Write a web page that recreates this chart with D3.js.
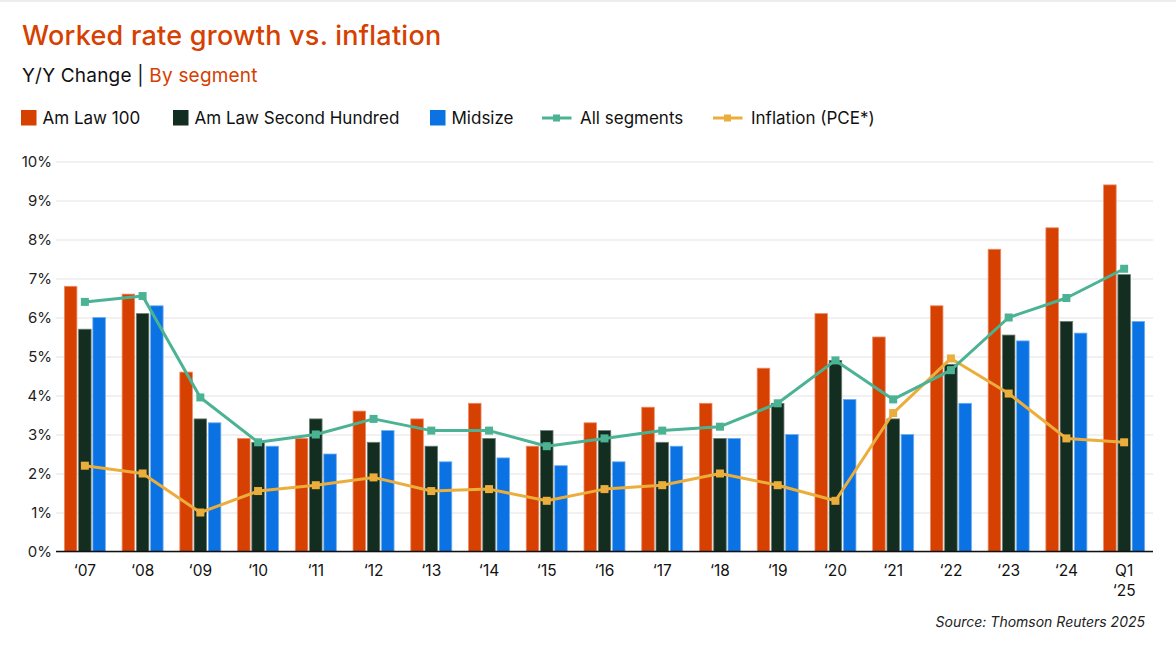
<!DOCTYPE html>
<html>
<head>
<meta charset="utf-8">
<script src="https://cdn.jsdelivr.net/npm/d3@7"></script>
<style>
  html, body { margin: 0; padding: 0; background: #fff; }
  svg { display: block; font-family: Inter, "Noto Sans", sans-serif; }
</style>
</head>
<body>
<svg id="chart" width="1176" height="645"></svg>
<script>
// ---- data ----
const categories = ["‘07","‘08","‘09","‘10","‘11","‘12","‘13","‘14","‘15","‘16","‘17","‘18","‘19","‘20","‘21","‘22","‘23","‘24","Q1\n‘25"];
const amLaw100      = [6.8, 6.6, 4.6, 2.9, 2.9, 3.6, 3.4, 3.8, 2.7, 3.3, 3.7, 3.8, 4.7, 6.1, 5.5, 6.3, 7.75, 8.3, 9.4];
const amLawSecond   = [5.7, 6.1, 3.4, 2.8, 3.4, 2.8, 2.7, 2.9, 3.1, 3.1, 2.8, 2.9, 3.8, 4.9, 3.4, 4.8, 5.55, 5.9, 7.1];
const midsize       = [6.0, 6.3, 3.3, 2.7, 2.5, 3.1, 2.3, 2.4, 2.2, 2.3, 2.7, 2.9, 3.0, 3.9, 3.0, 3.8, 5.4, 5.6, 5.9];
const allSegments   = [6.4, 6.55, 3.95, 2.8, 3.0, 3.4, 3.1, 3.1, 2.7, 2.9, 3.1, 3.2, 3.8, 4.9, 3.9, 4.65, 6.0, 6.5, 7.25];
const inflation     = [2.2, 2.0, 1.0, 1.55, 1.7, 1.9, 1.55, 1.6, 1.3, 1.6, 1.7, 2.0, 1.7, 1.3, 3.55, 4.95, 4.05, 2.9, 2.8];
const yTicks        = [0,1,2,3,4,5,6,7,8,9,10];
const barSeries  = ["Am Law 100", "Am Law Second Hundred", "Midsize"];
const lineSeries = ["All segments", "Inflation (PCE*)"];

// ---- styles ----
const colors = {
  "Am Law 100": "#D64000",
  "Am Law Second Hundred": "#132E21",
  "Midsize": "#0A72E3",
  "All segments": "#4BB394",
  "Inflation (PCE*)": "#EBAE3C"
};
const barStroke = {
  "Am Law 100": "#EE8A66",
  "Am Law Second Hundred": "#6C7F74",
  "Midsize": "#6FAEF0"
};

const svg = d3.select("#chart");
const W = 1176, H = 645;
const plot = { left: 56, right: 1153, top: 161.5, bottom: 551.5 };

// top border
svg.append("rect").attr("x", 0).attr("y", 0).attr("width", W).attr("height", 2).attr("fill", "#ececec");

// title & subtitle
svg.append("text").attr("x", 22).attr("y", 45)
  .attr("font-size", 27).attr("font-weight", 500).attr("fill", "#D64000")
  .attr("letter-spacing", 0.25)
  .text("Worked rate growth vs. inflation");
const sub = svg.append("text").attr("x", 22).attr("y", 82)
  .attr("font-size", 19).attr("fill", "#111").attr("letter-spacing", 0.2);
sub.append("tspan").text("Y/Y Change | ");
sub.append("tspan").attr("fill", "#D64000").text("By segment");

// legend
const legendItems = [
  { name: "Am Law 100", type: "bar", x: 21 },
  { name: "Am Law Second Hundred", type: "bar", x: 173 },
  { name: "Midsize", type: "bar", x: 430 },
  { name: "All segments", type: "line", x: 542 },
  { name: "Inflation (PCE*)", type: "line", x: 713 }
];
const lg = svg.append("g");
legendItems.forEach(it => {
  const g = lg.append("g");
  if (it.type === "bar") {
    g.append("rect").attr("x", it.x).attr("y", 110).attr("width", 15.5).attr("height", 15.5)
      .attr("fill", colors[it.name]);
    g.append("text").attr("x", it.x + 21.5).attr("y", 124).attr("font-size", 17).attr("fill", "#111").text(it.name);
  } else {
    g.append("line").attr("x1", it.x).attr("x2", it.x + 29.5).attr("y1", 118).attr("y2", 118)
      .attr("stroke", colors[it.name]).attr("stroke-width", 3);
    g.append("rect").attr("x", it.x + 11).attr("y", 114.5).attr("width", 7).attr("height", 7)
      .attr("fill", colors[it.name]);
    g.append("text").attr("x", it.x + 38).attr("y", 124).attr("font-size", 17).attr("fill", "#111").text(it.name);
  }
});

// scales
const x = d3.scaleBand().domain(categories).range([plot.left, plot.right]).padding(0);
const x1 = d3.scaleBand().domain(barSeries).range([-20.5, 20.5]).paddingInner(0.12);
const y = d3.scaleLinear().domain([0, 10]).range([plot.bottom, plot.top]);

// gridlines + y axis
const yAxis = d3.axisLeft(y).tickValues(yTicks).tickFormat(d => d + "%")
  .tickSize(-(plot.right - plot.left)).tickPadding(4);
const gy = svg.append("g").attr("transform", `translate(${plot.left},0)`).call(yAxis);
gy.select(".domain").remove();
gy.selectAll(".tick line").attr("stroke", "#e3e3e3").attr("stroke-width", 1.2);
gy.selectAll(".tick text").attr("font-size", 15).attr("fill", "#222")
  .attr("font-family", "Inter, 'Noto Sans', sans-serif");

// bars
const rows = categories.map((c, i) => ({
  cat: c,
  vals: [amLaw100[i], amLawSecond[i], midsize[i]]
}));
const groups = svg.append("g").selectAll("g").data(rows).join("g")
  .attr("transform", d => `translate(${x(d.cat) + x.bandwidth() / 2},0)`);
groups.selectAll("rect").data(d => d.vals.map((v, j) => ({ s: barSeries[j], v }))).join("rect")
  .attr("x", d => x1(d.s))
  .attr("width", x1.bandwidth())
  .attr("y", d => y(d.v))
  .attr("height", d => y(0) - y(d.v))
  .attr("fill", d => colors[d.s])
  .attr("stroke", d => barStroke[d.s])
  .attr("stroke-width", 0.8);

// x axis baseline
svg.append("line").attr("x1", plot.left).attr("x2", plot.right)
  .attr("y1", y(0)).attr("y2", y(0)).attr("stroke", "#111").attr("stroke-width", 1.6);

// x labels
const xl = svg.append("g").selectAll("text").data(categories).join("text")
  .attr("x", d => x(d) + x.bandwidth() / 2)
  .attr("y", 576)
  .attr("text-anchor", "middle")
  .attr("font-size", 15.5).attr("fill", "#111");
xl.each(function(d) {
  const parts = d.split("\n");
  const t = d3.select(this);
  parts.forEach((p, k) => {
    t.append("tspan").attr("x", x(d) + x.bandwidth() / 2).attr("dy", k === 0 ? 0 : 19.5).text(p);
  });
});

// lines
const lineData = [
  { name: "All segments", vals: allSegments },
  { name: "Inflation (PCE*)", vals: inflation }
];
const lineGen = d3.line().x((d, i) => x(categories[i]) + x.bandwidth() / 2).y(d => y(d));
[lineData[1], lineData[0]].forEach(s => {
  svg.append("path").datum(s.vals).attr("d", lineGen)
    .attr("fill", "none").attr("stroke", colors[s.name]).attr("stroke-width", 3)
    .attr("stroke-linejoin", "round");
  svg.append("g").selectAll("rect").data(s.vals).join("rect")
    .attr("x", (d, i) => x(categories[i]) + x.bandwidth() / 2 - 4)
    .attr("y", d => y(d) - 4)
    .attr("width", 8).attr("height", 8)
    .attr("fill", colors[s.name]);
});

// source
svg.append("text").attr("x", 1145).attr("y", 627).attr("text-anchor", "end")
  .attr("font-size", 14).attr("font-style", "italic").attr("fill", "#222")
  .text("Source: Thomson Reuters 2025");
</script>
</body>
</html>
